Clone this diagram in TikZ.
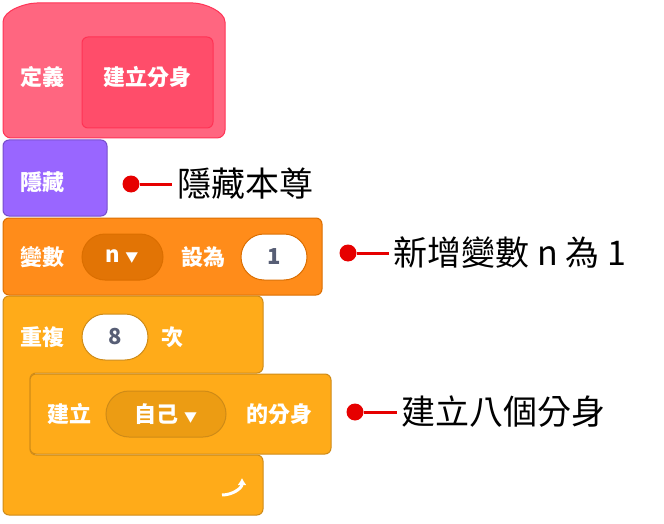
\documentclass[tikz,border=0pt]{standalone}
\usepackage{fontspec}
\setmainfont{Noto Sans CJK TC}
\usetikzlibrary{positioning,arrows.meta}
\definecolor{pinkblk}{HTML}{FF6680}
\definecolor{pinkedge}{HTML}{FF3355}
\definecolor{pinkin}{HTML}{FF4D6A}
\definecolor{looksblk}{HTML}{9966FF}
\definecolor{looksedge}{HTML}{774DCB}
\definecolor{varblk}{HTML}{FF8C1A}
\definecolor{varedge}{HTML}{DB6E00}
\definecolor{ctrlblk}{HTML}{FFAB19}
\definecolor{ctrledge}{HTML}{CF8B17}
\definecolor{ctrlin}{HTML}{EC9C13}
\definecolor{textgrey}{HTML}{575E75}
\definecolor{dotred}{HTML}{E60000}
\tikzset{
  blktext/.style={text=white, font=\bfseries\fontsize{22}{22}\selectfont},
  numtext/.style={text=textgrey, font=\bfseries\fontsize{22}{22}\selectfont},
  note/.style={text=black, font=\fontsize{34}{34}\selectfont, anchor=west},
  reddot/.style={circle, fill=dotred, minimum size=17pt, inner sep=0pt},
  oval/.style={fill=white, draw=#1, line width=1pt, rounded corners=23pt},
}
\begin{document}
\begin{tikzpicture}[x=1pt, y=-1pt]
\useasboundingbox (0,0) rectangle (664,524);

% define hat block
\draw[fill=pinkblk, draw=pinkedge, line width=1pt, rounded corners=8pt]
  (3,138) -- (3,30) to[out=90,in=180] (45,3) -- (185,3) to[out=0,in=90] (225,30)
  -- (225,138) -- cycle;
\draw[fill=pinkin, draw=pinkedge, line width=1pt, rounded corners=6pt]
  (82,37) rectangle (213,128);
\node[blktext] (def) at (42,77) {定義};
\node[blktext] (defname) at (147,77) {建立分身};

% hide block
\draw[fill=looksblk, draw=looksedge, line width=1pt, rounded corners=6pt]
  (3,140) rectangle (107,216);
\node[blktext] (hide) at (42,182) {隱藏};

% set variable block
\draw[fill=varblk, draw=varedge, line width=1pt, rounded corners=6pt]
  (3,218) rectangle (322,295);
\node[blktext] (setvar) at (42,257) {變數};
\draw[fill=varedge!80!varblk, draw=varedge, line width=1pt, rounded corners=23pt]
  (82,234) rectangle (163,280);
\node[blktext] (varname) at (122,257) {n \fontsize{13}{13}\selectfont▼};
\node[blktext] (setto) at (203,257) {設為};
\draw[oval=varedge] (241,234) rectangle (307,280);
\node[numtext] (one) at (274,257) {1};

% repeat block
\draw[fill=ctrlblk, draw=ctrledge, line width=1pt, rounded corners=6pt]
  (3,296) -- (263,296) -- (263,373) -- (30,373) -- (30,455) -- (263,455)
  -- (263,515) -- (3,515) -- cycle;
\node[blktext] (rep) at (42,337) {重複};
\draw[oval=ctrledge] (82,314) rectangle (148,360);
\node[numtext] (eight) at (115,337) {8};
\node[blktext] (times) at (172,337) {次};
\draw[white, line width=3pt, -{Latex[length=7pt,width=9pt]}]
  (222,495) to[out=0,in=-90] (242,478);

% create clone block
\draw[fill=ctrlblk, draw=ctrledge, line width=1pt, rounded corners=6pt]
  (30,374) rectangle (331,454);
\node[blktext] (clone) at (69,414) {建立};
\draw[fill=ctrlin, draw=ctrledge, line width=1pt, rounded corners=23pt]
  (106,391) rectangle (226,437);
\node[blktext] (myself) at (166,414) {自己 \fontsize{13}{13}\selectfont▼};
\node[blktext] (cloneof) at (279,414) {的分身};

% notes
\node[reddot] (d1) at (131,184) {};
\coordinate (e1) at (172,184);
\draw[dotred, line width=3pt] (d1) -- (e1);
\node[note] (n1) at (174,184) {隱藏本尊};
\node[reddot] (d2) at (348,253) {};
\coordinate (e2) at (389,253);
\draw[dotred, line width=3pt] (d2) -- (e2);
\node[note] (n2) at (390,253) {新增變數 n 為 1};
\node[reddot] (d3) at (355,412) {};
\coordinate (e3) at (397,412);
\draw[dotred, line width=3pt] (d3) -- (e3);
\node[note] (n3) at (398,412) {建立八個分身};
\end{tikzpicture}
\end{document}
